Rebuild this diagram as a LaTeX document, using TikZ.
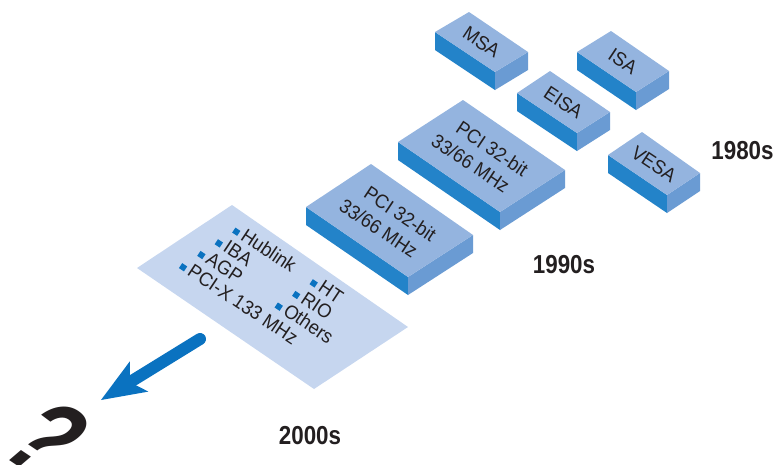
\documentclass[tikz,border=0pt]{standalone}
\usepackage{fontspec}
\setmainfont{Liberation Sans}[FakeStretch=0.94]
\newfontfamily\erafont{Liberation Sans}[FakeStretch=0.86]
\newfontfamily\qfont{Liberation Sans}[FakeStretch=0.72]
\usetikzlibrary{calc}
\definecolor{topc}{HTML}{94B4DF}
\definecolor{frontc}{HTML}{2383C9}
\definecolor{sidec}{HTML}{6A9BD3}
\definecolor{panelc}{HTML}{C6D6EF}
\definecolor{arrowc}{HTML}{0A72C0}
\definecolor{txtc}{HTML}{231F20}
\newcommand\isoblock[5]{%
  \coordinate (#1L) at #2; \coordinate (#1T) at #3;
  \coordinate (#1R) at #4; \coordinate (#1B) at #5;
  \fill[frontc] (#1L) -- (#1B) -- ($(#1B)+(0,18)$) -- ($(#1L)+(0,18)$) -- cycle;
  \fill[sidec] (#1B) -- (#1R) -- ($(#1R)+(0,18)$) -- ($(#1B)+(0,18)$) -- cycle;
  \fill[topc] (#1L) -- (#1T) -- (#1R) -- (#1B) -- cycle;
}
\tikzset{
  boxtext/.style={rotate=-33.7,text=txtc,font=\fontsize{19.5}{22}\selectfont,inner sep=0pt},
  itemtext/.style={rotate=-33.7,text=txtc,font=\fontsize{19.5}{20}\selectfont,anchor=base west,inner sep=0pt},
  bulletsq/.style={fill=arrowc,rotate=-33.7,minimum size=6pt,inner sep=0pt,outer sep=0pt},
  era/.style={text=txtc,font=\fontsize{26}{30}\erafont\bfseries,inner sep=0pt}
}
\newcommand\panelitem[4]{%
  \coordinate (#1P) at ($(pc)+({0.832*(#2)+0.832*(#3)},{0.555*(#2)-0.555*(#3)})$);
  \node[bulletsq] (#1Bul) at (#1P) {};
  \node[itemtext] (#1) at ($(#1P)+(3.2,7.3)$) {#4};}
\newcommand\pcilabel[2]{%
  \node[boxtext] (#1one) at ($(#2)+(10.8,-7.2)$) {PCI 32-bit};
  \node[boxtext] (#1two) at ($(#2)+(-10.8,7.2)$) {33/66 MHz};}
\begin{document}
\begin{tikzpicture}[x=1pt,y=-1pt]
\useasboundingbox (0,0) rectangle (777,464);
% boxes
\isoblock{msa}{(435,32)}{(469,12)}{(528,52)}{(495,72)}
\isoblock{isa}{(577,52)}{(611,31)}{(669,71)}{(636,92)}
\isoblock{eisa}{(517,93)}{(550,71)}{(610,112)}{(577,133)}
\isoblock{vesa}{(608,155)}{(642,132)}{(700,173)}{(667,195)}
\isoblock{pcib}{(398,142)}{(463,100)}{(565,170)}{(500,212)}
\isoblock{pcia}{(306,207)}{(371,164)}{(473,235)}{(408,277)}
\node[boxtext] (tmsa) at (481.5,42) {MSA};
\node[boxtext] (tisa) at (623,61.5) {ISA};
\node[boxtext] (teisa) at (563.5,102.5) {EISA};
\node[boxtext] (tvesa) at (654,164) {VESA};
\coordinate (cb) at (481.5,156);
\coordinate (ca) at (389.5,221);
\pcilabel{tpcib}{cb}
\pcilabel{tpcia}{ca}
% panel
\fill[panelc] (137,268) -- (232,205) -- (408,327) -- (314,389) -- cycle;
\coordinate (pc) at (272.5,297.5);
\panelitem{hub}{-81}{37.5}{Hublink}
\panelitem{iba}{-81}{16.5}{IBA}
\panelitem{agp}{-81}{-4.5}{AGP}
\panelitem{pcix}{-81}{-26.5}{PCI-X 133 MHz}
\panelitem{ht}{12}{37.5}{HT}
\panelitem{rio}{12}{16.5}{RIO}
\panelitem{oth}{12}{-4.5}{Others}
% arrow
\coordinate (arrTail) at (200,339);
\coordinate (arrTip) at (101,400);
\coordinate (arrBa) at (129.8,361.4);
\coordinate (arrBb) at (148.4,391.6);
\coordinate (arrN) at (129.9,382.2);
\draw[arrowc,line width=12pt,line cap=round] (arrTail) -- ($(arrN)!3pt!(arrTail)$);
\fill[arrowc] (arrTip) -- (arrBa) -- (arrN) -- (arrBb) -- cycle;
% question mark
\begin{scope}[shift={(16,465)},x=1pt,y=1pt,cm={0.832,-0.555,0.76,0.65,(0,0)}]
  \node[transform shape,text=txtc,font=\fontsize{118}{118}\qfont\bfseries,anchor=base,inner sep=0pt] (qm) at (0,0) {?};
\end{scope}
% era labels
\node[era] (e1980) at (742.5,151) {1980s};
\node[era] (e1990) at (564,265) {1990s};
\node[era] (e2000) at (310,436) {2000s};
\end{tikzpicture}
\end{document}
